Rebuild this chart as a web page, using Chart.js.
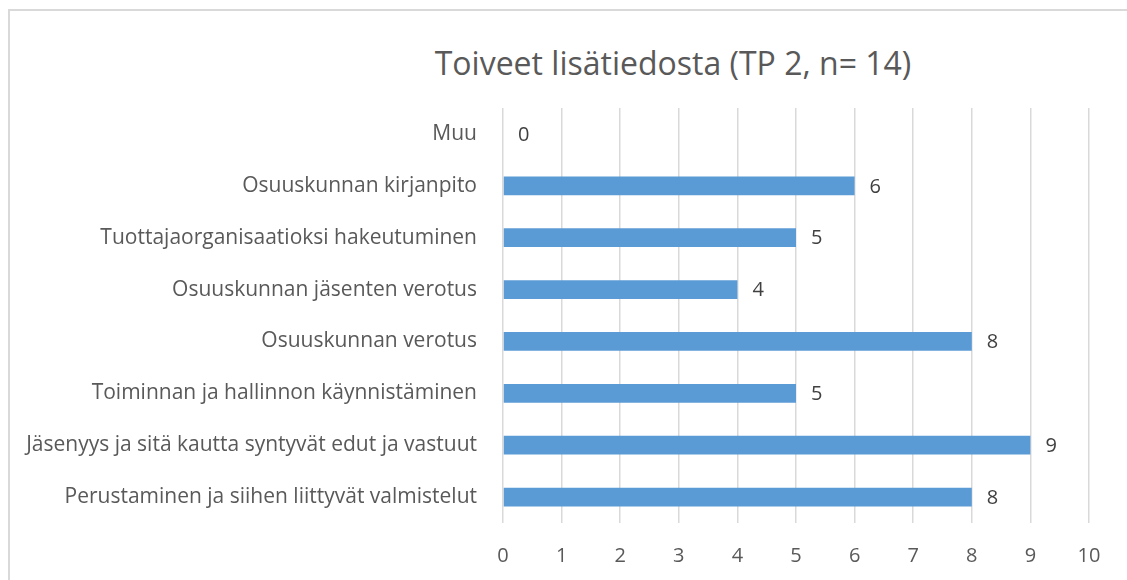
<!DOCTYPE html>
<html lang="fi">
<head>
<meta charset="UTF-8">
<title>Toiveet lisätiedosta</title>
<script src="https://cdn.jsdelivr.net/npm/chart.js"></script>
<style>
  html, body { margin: 0; padding: 0; background: #fff; overflow: hidden; }
  body { width: 1127px; height: 580px; position: relative; font-family: 'Open Sans', sans-serif; }
  .kehys {
    position: absolute; left: 8px; top: 9px; width: 1300px; height: 700px;
    border: 2px solid #d9d9d9; box-sizing: border-box;
  }
  .otsikko {
    position: absolute; top: 41px; left: 673px; transform: translateX(-50%);
    white-space: nowrap; font-size: 32px; color: #595959;
  }
  .kaavio { position: absolute; left: 0; top: 0; width: 1127px; height: 580px; }
</style>
</head>
<body>
<div class="kehys"></div>
<div class="otsikko">Toiveet lisätiedosta (TP 2, n= 14)</div>
<div class="kaavio"><canvas id="kuva"></canvas></div>

<script>
  const aiheet = [
    "Muu",
    "Osuuskunnan kirjanpito",
    "Tuottajaorganisaatioksi hakeutuminen",
    "Osuuskunnan jäsenten verotus",
    "Osuuskunnan verotus",
    "Toiminnan ja hallinnon käynnistäminen",
    "Jäsenyys ja sitä kautta syntyvät edut ja vastuut",
    "Perustaminen ja siihen liittyvät valmistelut"
  ];
  const vastaukset = [0, 6, 5, 4, 8, 5, 9, 8];

  const fontti = "'Open Sans', sans-serif";

  // arvot palkkien perään
  const arvoLaput = {
    id: "arvoLaput",
    afterDatasetsDraw(chart) {
      const ctx = chart.ctx;
      const meta = chart.getDatasetMeta(0);
      ctx.save();
      ctx.font = "20px " + fontti;
      ctx.fillStyle = "#404040";
      ctx.textAlign = "left";
      ctx.textBaseline = "middle";
      meta.data.forEach((palkki, i) => {
        ctx.fillText(String(vastaukset[i]), palkki.x + 15, palkki.y + 1);
      });
      ctx.restore();
    }
  };

  new Chart(document.getElementById("kuva"), {
    type: "bar",
    data: {
      labels: aiheet,
      datasets: [{
        data: vastaukset,
        backgroundColor: "#5b9bd5",
        categoryPercentage: 1,
        barPercentage: 0.36
      }]
    },
    options: {
      indexAxis: "y",
      responsive: true,
      maintainAspectRatio: false,
      animation: false,
      layout: { padding: { top: 108, right: 38, left: 0, bottom: 0 } },
      scales: {
        x: {
          min: 0,
          max: 10,
          ticks: { stepSize: 1, color: "#595959", padding: 21, font: { size: 20, family: fontti } },
          grid: { color: "#d9d9d9", lineWidth: 1.5, drawTicks: false },
          border: { display: false },
          afterFit: s => { s.height = 57; }
        },
        y: {
          ticks: { color: "#595959", padding: 26, font: { size: 21, family: fontti } },
          grid: { display: false, drawTicks: false },
          border: { display: false },
          afterFit: s => { s.width = 503; }
        }
      },
      plugins: {
        legend: { display: false },
        tooltip: { enabled: false }
      }
    },
    plugins: [arvoLaput]
  });
</script>
</body>
</html>
